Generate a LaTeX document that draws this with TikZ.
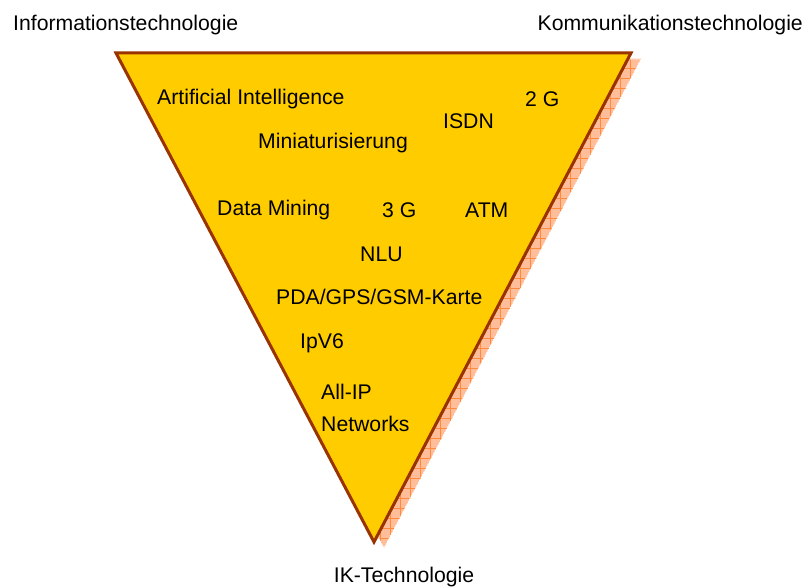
\documentclass[tikz,border=0pt]{standalone}
\usepackage{fontspec}
\setmainfont{Liberation Sans}
\usetikzlibrary{patterns.meta}

\definecolor{wedgefill}{HTML}{FFCC00}
\definecolor{wedgeline}{HTML}{993300}
\definecolor{shadefill}{HTML}{FFBE99}
\definecolor{shadegrid}{HTML}{FF8A3D}

\begin{document}
\begin{tikzpicture}
  [x=1pt,y=-1pt
  ,tech/.style={anchor=west,inner sep=0pt,font=\fontsize{21.2}{24}\selectfont}
  ,field/.style={inner sep=0pt,font=\fontsize{21.2}{24}\selectfont}
  ,wedge/.style={fill=wedgefill,draw=wedgeline,line width=3pt,miter limit=20}
  ,shade/.style={fill=shadefill,draw=white,line width=0.6pt,dash pattern=on 1.5pt off 1.5pt}
  ]

  % Technology label
  %
  % #1 - name
  % #2 - left end, middle
  % #3 - text
  \newcommand{\tech}[3]{
    \node [tech] (#1) at (#2) {#3};
  }

  \useasboundingbox (0,0) rectangle (808,588);

  % corners of the wedge
  \coordinate (tl) at (116,53);
  \coordinate (tr) at (631,53);
  \coordinate (bt) at (374,542);

  % shadow
  \path[pattern={Lines[distance=10pt,angle=0,line width=0.7pt]},pattern color=shadegrid,
    preaction={fill=shadefill},
    postaction={pattern={Lines[distance=10pt,angle=90,line width=0.7pt]},pattern color=shadegrid}]
    ([shift={(10,6)}]tl) -- ([shift={(10,6)}]tr) -- ([shift={(10,6)}]bt) -- cycle;
  \draw[white,line width=0.6pt,dash pattern=on 1.5pt off 1.5pt]
    ([shift={(10,6)}]tl) -- ([shift={(10,6)}]tr) -- ([shift={(10,6)}]bt) -- cycle;

  % wedge
  \draw[wedge] (tl) -- (tr) -- (bt) -- cycle;

  % fields
  \node [field,anchor=west] (it) at (13,25) {Informationstechnologie};
  \node [field,anchor=east] (kt) at (803,25) {Kommunikationstechnologie};
  \node [field] (ikt) at (404,577) {IK-Technologie};

  % technologies
  \tech{ai}{157,99}{Artificial Intelligence}
  \tech{zg}{525,99}{2 G}
  \tech{isdn}{443,121}{ISDN}
  \tech{mini}{258,143}{Miniaturisierung}
  \tech{dm}{217,210}{Data Mining}
  \tech{dg}{382,210}{3 G}
  \tech{atm}{465,210}{ATM}
  \tech{nlu}{360,254}{NLU}
  \tech{pda}{276,297}{PDA/GPS/GSM-Karte}
  \tech{ipv}{300,343}{IpV6}
  \tech{allip}{321,392}{All-IP}
  \tech{net}{321,424}{Networks}

\end{tikzpicture}
\end{document}
